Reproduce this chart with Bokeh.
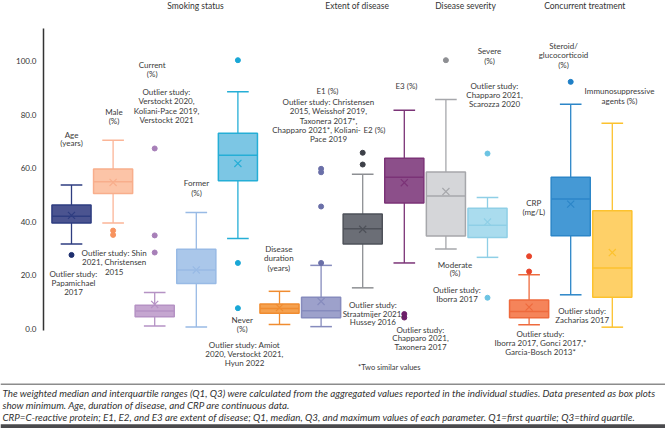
from bokeh.plotting import figure
from bokeh.models import Range1d, FixedTicker, NumeralTickFormatter, Label, Span, ColumnDataSource, BoxAnnotation
from bokeh.embed import file_html
from bokeh.resources import INLINE

# ---------------- data ----------------
categories = ["Age (years)", "Male (%)", "Current (%)", "Former (%)", "Never (%)",
              "Disease duration (years)", "E1 (%)", "E2 (%)", "E3 (%)",
              "Moderate (%)", "Severe (%)", "CRP (mg/L)",
              "Steroid/glucocorticoid (%)", "Immunosuppressive agents (%)"]
whisker_low = [31.6, 39.4, 0.9, 0.6, 33.6, 1.5, 0.7, 15.2, 24.5, 29.7, 26.6, 1.4, 12.6, 0.5]
q1 =          [39.4, 50.5, 4.4, 16.8, 55.2, 5.7, 4.0, 31.6, 46.9, 34.6, 34.0, 4.0, 34.7, 11.7]
median =      [42.0, 54.9, 6.5, 21.9, 64.8, 7.5, 6.6, 37.3, 56.5, 49.5, 38.6, 6.4, 48.4, 22.6]
q3 =          [46.2, 59.6, 8.7, 29.6, 73.0, 9.2, 11.7, 42.8, 63.6, 58.5, 45.0, 10.7, 56.5, 44.0]
whisker_high = [53.6, 70.4, 13.5, 43.4, 88.5, 13.9, 23.6, 57.7, 81.6, 85.6, 49.0, 20.1, 83.8, 76.7]
mean =        [42.3, 54.6, 9.0, 21.9, 61.7, 7.8, 10.1, 37.1, 54.5, 51.2, 39.8, 8.0, 46.5, 28.4]
outlier_cat = [0, 1, 1, 2, 2, 2, 4, 4, 4, 6, 6, 6, 6, 7, 7, 8, 8, 9, 10, 10, 11, 11, 12]
outlier_val = [27.5, 36.6, 35.0, 67.3, 34.8, 28.4, 100.3, 24.5, 7.6, 59.7, 58.4, 45.6, 24.5,
               65.7, 61.3, 5.4, 4.1, 100.3, 65.4, 11.5, 27.0, 21.3, 92.2]
y_ticks = [0, 20, 40, 60, 80, 100]
group_titles = ["Smoking status", "Extent of disease", "Disease severity", "Concurrent treatment"]
caption_lines = [
    "The weighted median and interquartile ranges (Q1, Q3) were calculated from the aggregated values reported in the individual studies. Data presented as box plots",
    "show minimum. Age, duration of disease, and CRP are continuous data.",
    "CRP=C-reactive protein; E1, E2, and E3 are extent of disease; Q1, median, Q3, and maximum values of each parameter. Q1=first quartile; Q3=third quartile.",
]

# ---------------- styles ----------------
fill_colors = ["#4b5490", "#fcc4a7", "#c5a6d0", "#aac7ea", "#7cc6e4", "#f5a14f", "#9da1cb",
               "#6b6e76", "#8c4f8a", "#d5d6d9", "#aadcee", "#f5845a", "#4599d5", "#fed068"]
line_colors = ["#2e3d80", "#f8ae8c", "#b592c4", "#98bae5", "#25aed6", "#f08c30", "#868bbd",
               "#4e5159", "#7b3377", "#a6a7ab", "#8fcfe6", "#ee6a3d", "#2c86c8", "#fcc22e"]
whisker_colors = ["#2e3d80", "#fbb597", "#b592c4", "#98bae5", "#25aed6", "#f08c30", "#868bbd",
                  "#8d8f93", "#7b3377", "#a6a7ab", "#8fcfe6", "#ee6a3d", "#2c86c8", "#fcc22e"]
outlier_palette = ["#1e2f6e", "#f7935f", "#a77fb8", "#98bae5", "#19a7d6", "#f08c30", "#6a6fa8",
                   "#3d4048", "#6d1f6a", "#8e8f93", "#6cc4e3", "#e8452b", "#1f7fc6", "#fcc22e"]
FONT = "Lato"
TXT = "#3a3a3a"

BOX_W = 0.94
CAP_W = 0.52

# pixel layout of the page (x: category index scale, y: value scale)
X0, DX = 71.0, 41.6        # px of first category, px per category
Y0, DY = 328.0, 2.675      # px of value 0, px per unit
W, H = 665, 428


def to_data(px, py):
    return (px - X0) / DX, (Y0 - py) / DY


x = list(range(len(categories)))
src = ColumnDataSource(dict(
    x=x, low=whisker_low, q1=q1, med=median, q3=q3, high=whisker_high, mean=mean,
    left=[i - BOX_W / 2 for i in x], right=[i + BOX_W / 2 for i in x],
    cl=[i - CAP_W / 2 for i in x], cr=[i + CAP_W / 2 for i in x],
    fill=fill_colors, line=line_colors, wc=whisker_colors,
))
osrc = ColumnDataSource(dict(x=outlier_cat, y=outlier_val,
                             c=[outlier_palette[i] for i in outlier_cat]))

xs, ytop = to_data(0, 0)
xe, ybot = to_data(W, H)
p = figure(width=W, height=H, x_range=Range1d(xs, xe), y_range=Range1d(ybot, ytop),
           toolbar_location=None, output_backend="svg", x_axis_location=None,
           min_border=0)
p.outline_line_color = None
p.grid.visible = False
p.background_fill_color = "white"

ya = p.yaxis[0]
ya.fixed_location = to_data(43, 0)[0]
ya.ticker = FixedTicker(ticks=y_ticks)
ya.formatter = NumeralTickFormatter(format="0.0")
ya.major_tick_out = 0
ya.major_tick_in = 0
ya.minor_tick_out = 0
ya.minor_tick_in = 0
ya.axis_line_color = "#333333"
ya.axis_line_width = 1.5
ya.bounds = (-0.75, 112.3)
ya.major_label_text_font_size = "8px"
ya.major_label_text_font = FONT
ya.major_label_text_color = "#333333"
ya.major_label_standoff = 7

# whiskers
p.segment(x0="x", y0="low", x1="x", y1="q1", line_color="wc", line_width=1.3, source=src)
p.segment(x0="x", y0="q3", x1="x", y1="high", line_color="wc", line_width=1.3, source=src)
p.segment(x0="cl", y0="low", x1="cr", y1="low", line_color="wc", line_width=1.5, source=src)
p.segment(x0="cl", y0="high", x1="cr", y1="high", line_color="wc", line_width=1.5, source=src)
# boxes
p.vbar(x="x", width=BOX_W, top="q3", bottom="q1", fill_color="fill", line_color="line",
       line_width=1.5, source=src)
p.segment(x0="left", y0="med", x1="right", y1="med", line_color="line", line_width=1.5, source=src)
p.scatter(x="x", y="mean", marker="x", size=10, line_color="line", line_width=1.2, source=src)
# outliers
p.scatter(x="x", y="y", size=5, fill_color="c", line_color="c", source=osrc)


def note(px, py, lines, step=9.3, size="8px", color=TXT, align="center", style="normal"):
    for k, t in enumerate(lines):
        xd, yd = to_data(px, py + k * step)
        p.add_layout(Label(x=xd, y=yd, text=t, text_align=align, text_baseline="middle",
                           text_font=FONT, text_font_size=size, text_color=color,
                           text_font_style=style))


# group headers
for (hx, title) in zip([195, 356.7, 465, 584.3], group_titles):
    note(hx, 5, [title], size="8.5px", color="#333333")

note(71, 134, ["Age", "(years)"], step=8.8)
note(73, 273.3, ["Outlier study:", "Papamichael", "2017"], step=9)
note(113.5, 111.7, ["Male", "(%)"], step=9)
note(113.7, 252.7, ["Outlier study: Shin", "2021, Christensen", "2015"], step=9.2)
note(151.7, 64.3, ["Current", "(%)"], step=9)
note(166, 91, ["Outlier study:", "Verstockt 2020,", "Koliani-Pace 2019,", "Verstockt 2021"], step=9.5)
note(196, 182.7, ["Former", "(%)"], step=9.3)
note(241.7, 319.3, ["Never", "(%)"], step=9)
note(244, 344.3, ["Outlier study: Amiot", "2020, Verstockt 2021,", "Hyun 2022"], step=9)
note(278.3, 248.7, ["Disease", "duration", "(years)"], step=9.2)
note(327, 90.7, ["E1 (%)"])
note(328, 101, ["Outlier study: Christensen", "2015, Weisshof 2019,", "Taxonera 2017*,"], step=9.5)
note(316, 129, ["Chapparo 2021*, Koliani-"])
note(328, 138, ["Pace 2019"])
note(374, 129, ["E2 (%)"])
note(372.5, 304.3, ["Outlier study:", "Straatmijer 2021,", "Hussey 2016"], step=8.7)
note(406, 85.3, ["E3 (%)"])
note(420, 329, ["Outlier study:", "Chapparo 2021,", "Taxonera 2017"], step=8.9)
note(489, 50.7, ["Severe", "(%)"], step=9.3)
note(494, 85.3, ["Outlier study:", "Chapparo 2021,", "Scarozza 2020"], step=9.3)
note(454.5, 264, ["Moderate", "(%)"], step=8.7)
note(456.5, 289, ["Outlier study:", "Iborra 2017"], step=9.5)
note(533.3, 202, ["CRP", "(mg/L)"], step=9.5)
note(540, 333.3, ["Outlier study:", "Iborra 2017, Gonci 2017,*", "Garcia-Bosch 2013*"], step=8.9)
note(563, 45, ["Steroid/", "glucocorticoid", "(%)"], step=9.5)
note(619, 90.7, ["Immunosuppressive", "agents (%)"], step=9.3)
note(581.7, 310, ["Outlier study:", "Zacharias 2017"], step=9)
note(389, 367, ["*Two similar values"], size="7.5px")

# ---------------- caption ----------------
p.add_layout(Span(location=to_data(0, 383.7)[1], dimension="width",
                  line_color="#8c8c8c", line_width=1.5))
p.add_layout(BoxAnnotation(top=to_data(0, 423.7)[1], fill_color="#4a4a4d", fill_alpha=1.0,
                           line_color=None))
note(2, 392, caption_lines, step=12.1, size="9.8px", color="#333333", align="left",
     style="italic")

open("out.html", "w").write(file_html(p, INLINE))
